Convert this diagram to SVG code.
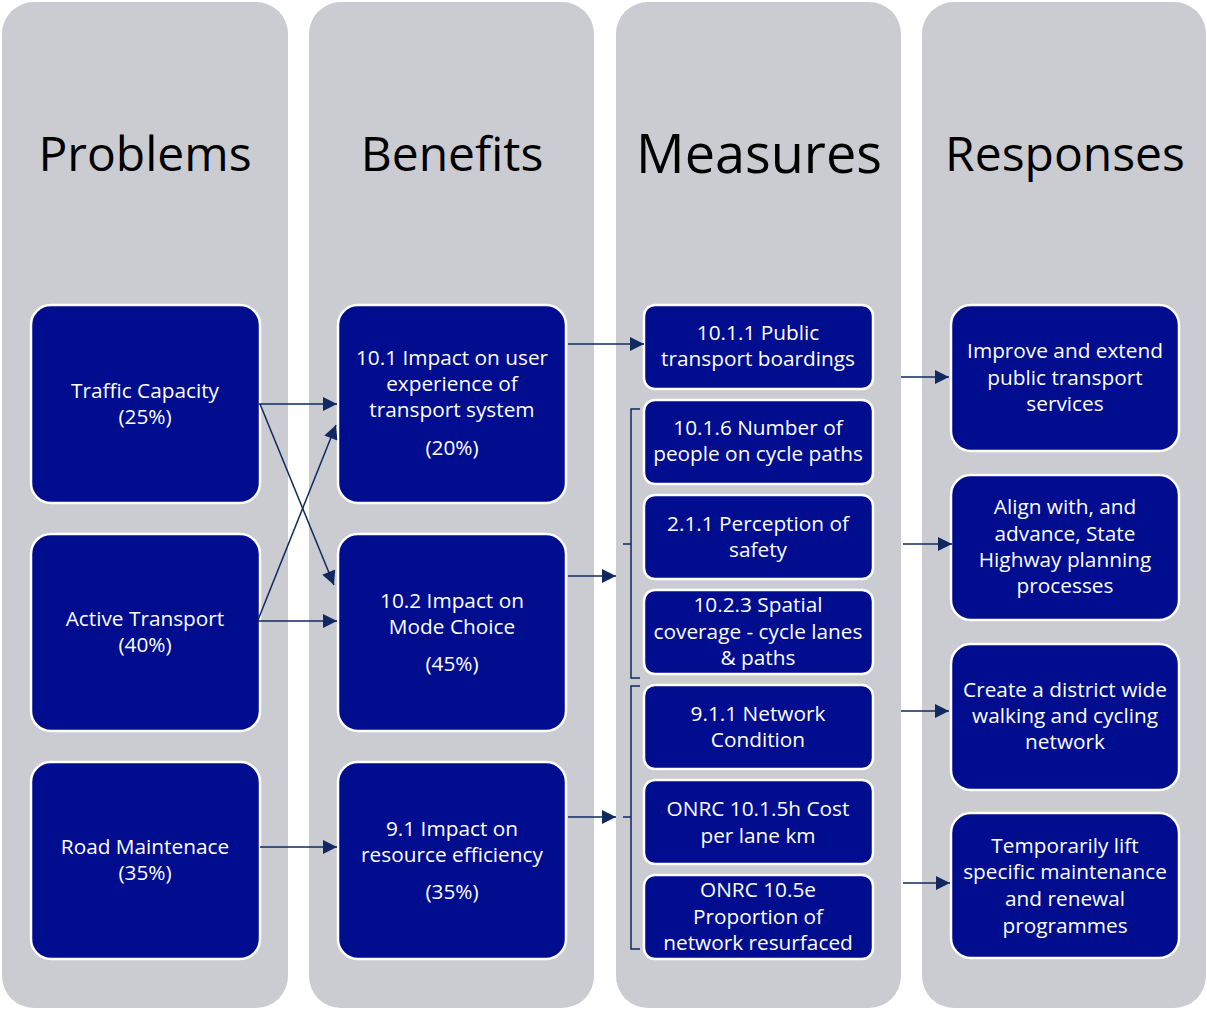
<svg xmlns="http://www.w3.org/2000/svg" width="1207" height="1010" viewBox="0 0 1207 1010">
<defs>
<style>
.col{fill:#CBCCD1;}
.hdr{font-family:"Open Sans","Liberation Sans",sans-serif;font-size:48px;fill:#000;text-anchor:middle;}
.box{fill:#000D8F;stroke:#FFFFFF;stroke-width:2.5;}
.t{font-family:"Open Sans","Liberation Sans",sans-serif;font-size:20.8px;fill:#FFFFFF;text-anchor:middle;}
.c{fill:none;stroke:#112860;stroke-width:1.5;}
</style>
<marker id="ahb" viewBox="0 0 10 10" refX="10" refY="5" markerWidth="15" markerHeight="14" markerUnits="userSpaceOnUse" orient="auto">
<path d="M0,0 L10,5 L0,10 Z" fill="#112860"/>
</marker>
</defs>
<rect width="1207" height="1010" fill="#FFFFFF"/>
<g id="columns">
<rect class="col" x="2" y="2" width="286" height="1006" rx="32"/>
<rect class="col" x="309" y="2" width="285" height="1006" rx="32"/>
<rect class="col" x="616" y="2" width="285" height="1006" rx="32"/>
<rect class="col" x="922" y="2" width="284" height="1006" rx="32"/>
<text class="hdr" x="145" y="171">Problems</text>
<text class="hdr" x="452" y="171">Benefits</text>
<text class="hdr" x="759" y="173" style="font-size:54px">Measures</text>
<text class="hdr" x="1065" y="171">Responses</text>
</g>
<g id="n-traffic"><rect class="box" x="31" y="305" width="229" height="198" rx="20"/><text class="t" x="145" y="398">Traffic Capacity</text><text class="t" x="145" y="424">(25%)</text></g>
<g id="n-active"><rect class="box" x="31" y="534" width="229" height="197" rx="20"/><text class="t" x="145" y="626">Active Transport</text><text class="t" x="145" y="652">(40%)</text></g>
<g id="n-road"><rect class="box" x="31" y="762" width="229" height="197" rx="20"/><text class="t" x="145" y="854">Road Maintenace</text><text class="t" x="145" y="880">(35%)</text></g>
<g id="n-b101"><rect class="box" x="338" y="305" width="228" height="198" rx="20"/><text class="t" x="452" y="365">10.1 Impact on user</text><text class="t" x="452" y="391">experience of</text><text class="t" x="452" y="417">transport system</text><text class="t" x="452" y="455">(20%)</text></g>
<g id="n-b102"><rect class="box" x="338" y="534" width="228" height="197" rx="20"/><text class="t" x="452" y="608">10.2 Impact on</text><text class="t" x="452" y="634">Mode Choice</text><text class="t" x="452" y="671">(45%)</text></g>
<g id="n-b91"><rect class="box" x="338" y="762" width="228" height="197" rx="20"/><text class="t" x="452" y="836">9.1 Impact on</text><text class="t" x="452" y="862">resource efficiency</text><text class="t" x="452" y="899">(35%)</text></g>
<g id="n-m1011"><rect class="box" x="644" y="305" width="229" height="84" rx="11"/><text class="t" x="758" y="340">10.1.1 Public</text><text class="t" x="758" y="366">transport boardings</text></g>
<g id="n-m1016"><rect class="box" x="644" y="400" width="229" height="84" rx="11"/><text class="t" x="758" y="435">10.1.6 Number of</text><text class="t" x="758" y="461">people on cycle paths</text></g>
<g id="n-m211"><rect class="box" x="644" y="495" width="229" height="84" rx="11"/><text class="t" x="758" y="531">2.1.1 Perception of</text><text class="t" x="758" y="557">safety</text></g>
<g id="n-m1023"><rect class="box" x="644" y="590" width="229" height="84" rx="11"/><text class="t" x="758" y="612">10.2.3 Spatial</text><text class="t" x="758" y="639">coverage - cycle lanes</text><text class="t" x="758" y="665">&amp; paths</text></g>
<g id="n-m911"><rect class="box" x="644" y="685" width="229" height="84" rx="11"/><text class="t" x="758" y="721">9.1.1 Network</text><text class="t" x="758" y="747">Condition</text></g>
<g id="n-monrc1"><rect class="box" x="644" y="780" width="229" height="84" rx="11"/><text class="t" x="758" y="816">ONRC 10.1.5h Cost</text><text class="t" x="758" y="843">per lane km</text></g>
<g id="n-monrc2"><rect class="box" x="644" y="875" width="229" height="84" rx="11"/><text class="t" x="758" y="897">ONRC 10.5e</text><text class="t" x="758" y="924">Proportion of</text><text class="t" x="758" y="950">network resurfaced</text></g>
<g id="n-r1"><rect class="box" x="951" y="305" width="228" height="146" rx="20"/><text class="t" x="1065" y="358">Improve and extend</text><text class="t" x="1065" y="385">public transport</text><text class="t" x="1065" y="411">services</text></g>
<g id="n-r2"><rect class="box" x="951" y="475" width="228" height="145" rx="20"/><text class="t" x="1065" y="514">Align with, and</text><text class="t" x="1065" y="541">advance, State</text><text class="t" x="1065" y="567">Highway planning</text><text class="t" x="1065" y="593">processes</text></g>
<g id="n-r3"><rect class="box" x="951" y="644" width="228" height="146" rx="20"/><text class="t" x="1065" y="697">Create a district wide</text><text class="t" x="1065" y="723">walking and cycling</text><text class="t" x="1065" y="749">network</text></g>
<g id="n-r4"><rect class="box" x="951" y="813" width="228" height="145" rx="20"/><text class="t" x="1065" y="853">Temporarily lift</text><text class="t" x="1065" y="879">specific maintenance</text><text class="t" x="1065" y="906">and renewal</text><text class="t" x="1065" y="933">programmes</text></g>
<g id="connectors">
<path class="c" d="M259,404 L337,404" marker-end="url(#ahb)"/>
<path class="c" d="M260,404 L334,585" marker-end="url(#ahb)"/>
<path class="c" d="M258,620 L336,425" marker-end="url(#ahb)"/>
<path class="c" d="M258,621 L337,621" marker-end="url(#ahb)"/>
<path class="c" d="M260,847 L337,847" marker-end="url(#ahb)"/>
<path class="c" d="M568,344 L644,344" marker-end="url(#ahb)"/>
<path class="c" d="M568,576 L616,576" marker-end="url(#ahb)"/>
<path class="c" d="M568,817 L616,817" marker-end="url(#ahb)"/>
<path class="c" d="M901,377 L949,377" marker-end="url(#ahb)"/>
<path class="c" d="M903,544 L952,544" marker-end="url(#ahb)"/>
<path class="c" d="M901,711 L949,711" marker-end="url(#ahb)"/>
<path class="c" d="M903,883 L950,883" marker-end="url(#ahb)"/>
<path class="c" d="M640,409 L631,409 L631,544 L623,544 M631,544 L631,678 L640,678"/>
<path class="c" d="M640,686 L631,686 L631,817 L623,817 M631,817 L631,949 L640,949"/>
</g>
</svg>
